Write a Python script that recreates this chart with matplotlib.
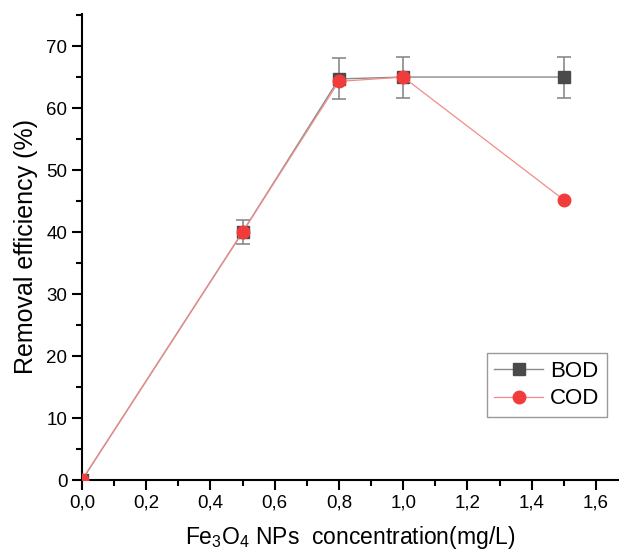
import matplotlib
matplotlib.use("Agg")
import matplotlib.pyplot as plt
from matplotlib.ticker import MultipleLocator, FuncFormatter
from matplotlib.lines import Line2D

plt.rcParams['font.family'] = ['Liberation Sans', 'DejaVu Sans']
plt.rcParams['mathtext.fontset'] = 'custom'
plt.rcParams['mathtext.rm'] = 'Liberation Sans'
plt.rcParams['mathtext.it'] = 'Liberation Sans'

conc = [0.0, 0.5, 0.8, 1.0, 1.5]
bod = [0.0, 40.0, 64.7, 65.0, 65.0]
bod_err = [0.0, 2.0, 3.3, 3.3, 3.3]
cod = [0.0, 40.0, 64.3, 65.0, 45.2]
series_labels = ['BOD', 'COD']

fig = plt.figure(figsize=(6.19, 5.53), dpi=100)
ax = fig.add_axes([0.1325, 0.132, 0.8675, 0.843])

bod_style = dict(color='#8a8a8a', lw=1.0, marker='s', ms=8, mfc='#4a4a4a', mec='#4a4a4a')
cod_style = dict(color='#f08c8c', lw=0.9, marker='o', ms=9, mfc='#f23c3c', mec='#f23c3c')

ax.errorbar(conc, bod, yerr=bod_err, ecolor='#8a8a8a', elinewidth=1.2,
            capsize=5, capthick=1.2, zorder=3, **bod_style)
ax.plot(conc, cod, zorder=4, **cod_style)

ax.set_xlim(0, 1.672)
ax.set_ylim(0, 75.2)
ax.spines['top'].set_visible(False)
ax.spines['right'].set_visible(False)
for s in ['left', 'bottom']:
    ax.spines[s].set_linewidth(1.5)

ax.xaxis.set_major_locator(MultipleLocator(0.2))
ax.xaxis.set_minor_locator(MultipleLocator(0.1))
ax.yaxis.set_major_locator(MultipleLocator(10))
ax.yaxis.set_minor_locator(MultipleLocator(5))
ax.xaxis.set_major_formatter(FuncFormatter(lambda v, p: f"{v:.1f}".replace('.', ',')))
ax.tick_params(which='major', direction='out', length=7, width=1.5, labelsize=13.5)
ax.tick_params(which='minor', direction='out', length=4, width=1.5)

ax.set_xlabel('Fe$_3$O$_4$ NPs  concentration(mg/L)', fontsize=16.5, labelpad=9)
ax.set_ylabel('Removal efficiency (%)', fontsize=18, labelpad=6)

handles = [Line2D([], [], **bod_style), Line2D([], [], **cod_style)]
leg = ax.legend(handles, series_labels, loc='lower right', bbox_to_anchor=(0.978, 0.135),
                borderaxespad=0, fontsize=16, frameon=True, fancybox=False,
                edgecolor='#808080', handlelength=2.2, handletextpad=0.3,
                borderpad=0.35, labelspacing=0.3)
leg.get_frame().set_linewidth(1.0)

fig.savefig('out.png', dpi=100)
